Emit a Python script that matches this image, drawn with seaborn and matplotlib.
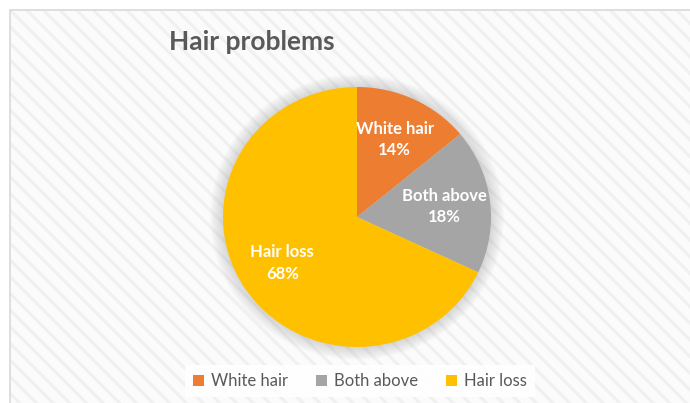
import numpy as np
import matplotlib.pyplot as plt
import seaborn as sns
from matplotlib.patches import Rectangle, Circle, Patch

# ── data ──────────────────────────────────────
categories = ["White hair", "Both above", "Hair loss"]
shares = [14, 18, 68]
colors = ["#ED7D31", "#A5A5A5", "#FFC000"]

sns.set_style("white")
plt.rcParams["font.family"] = ["Lato", "DejaVu Sans"]
plt.rcParams["hatch.linewidth"] = 2.2

W, H = 690, 403
fig = plt.figure(figsize=(W / 100, H / 100), dpi=100)
fig.patch.set_facecolor("white")

# striped chart-area background + light border
bg = Rectangle((10 / W, 0), 1, 1 - 10 / H, transform=fig.transFigure,
               facecolor="#fbfbfb", edgecolor="#f0f0f0", hatch="\\\\", lw=0, zorder=-3)
fig.patches.append(bg)
border = Rectangle((10 / W, -0.01), 1, 1 - 10 / H + 0.01, transform=fig.transFigure,
                   fill=False, edgecolor="#d9d9d9", lw=1.2, zorder=-2)
fig.patches.append(border)

# pie axes: centre (357, 217) px, radius ~134 x 130 px
cx, cy, rx, ry = 357, 217, 134, 130
pad = 1.12
ax = fig.add_axes([(cx - rx * pad) / W, 1 - (cy + ry * pad) / H,
                   2 * rx * pad / W, 2 * ry * pad / H])
ax.patch.set_alpha(0)

# soft glow behind the pie
for k in range(8):
    ax.add_patch(Circle((0, 0), 1.0 + 0.012 * (k + 1), facecolor="#7f7f7f",
                        alpha=0.035, lw=0, zorder=0))


def fmt(pct, labels=iter(categories)):
    return f"{next(labels)}\n{pct:.0f}%"


wedges, texts, autotexts = ax.pie(
    shares, colors=colors, startangle=90, counterclock=False,
    autopct=fmt, pctdistance=0.66,
    wedgeprops=dict(linewidth=0, zorder=2),
    textprops=dict(color="white", fontsize=12, fontweight="bold",
                   ha="center", va="center", linespacing=1.4),
)
ax.set_aspect("auto")
ax.set_xlim(-pad, pad)
ax.set_ylim(-pad, pad)
ax.axis("off")

fig.text(252 / W, 1 - 42 / H, "Hair problems", fontsize=19, fontweight="bold",
         color="#595959", ha="center", va="center")

handles = [Patch(facecolor=c, edgecolor="none", label=l) for c, l in zip(colors, categories)]
leg = fig.legend(handles=handles, loc="center", bbox_to_anchor=(360 / W, 1 - 381 / H),
                 ncol=3, frameon=True, fontsize=12, handlelength=0.65, handleheight=0.65,
                 handletextpad=0.4, columnspacing=1.7, borderpad=0.5,
                 labelcolor="#595959")
leg.get_frame().set_facecolor("white")
leg.get_frame().set_edgecolor("none")
leg.get_frame().set_alpha(0.9)
leg.get_frame().set_boxstyle("square", pad=0)

fig.savefig("out.png", dpi=100)
